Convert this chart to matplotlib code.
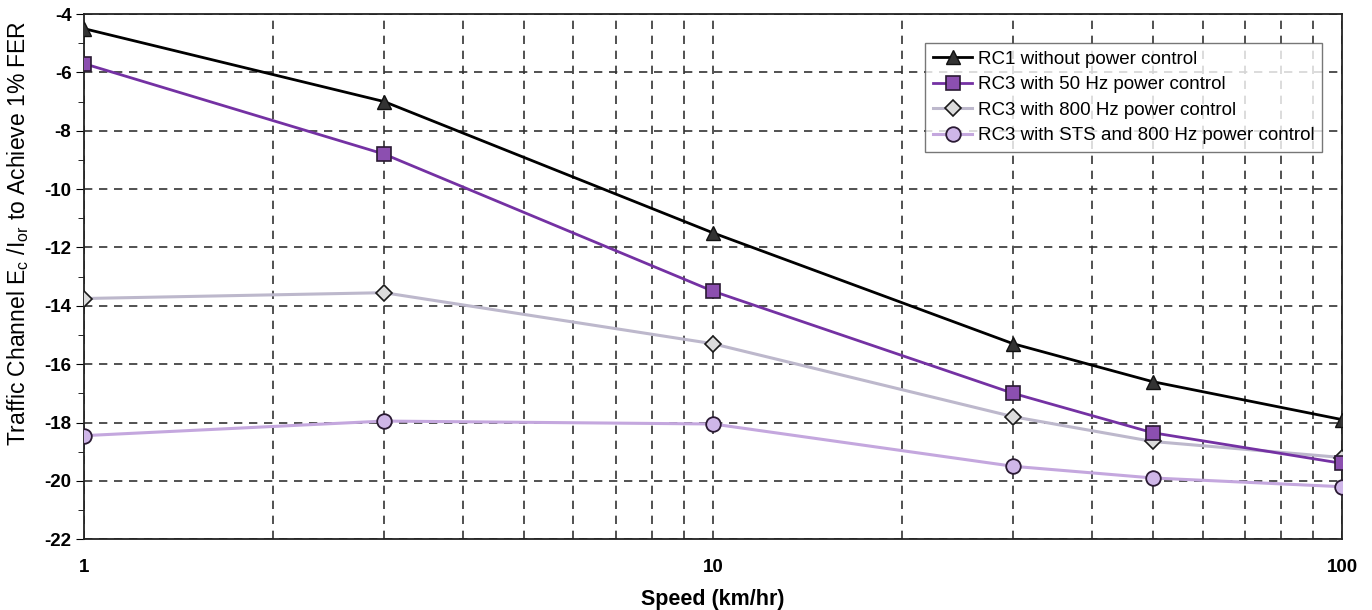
import numpy as np
import matplotlib
matplotlib.use('Agg')
import matplotlib.pyplot as plt
from matplotlib.ticker import FixedLocator, NullFormatter

plt.rcParams['font.family'] = ['Liberation Sans', 'DejaVu Sans']
plt.rcParams['mathtext.fontset'] = 'custom'
plt.rcParams['mathtext.rm'] = 'Liberation Sans'
plt.rcParams['axes.unicode_minus'] = False

speed = [1, 3, 10, 30, 50, 100]
rc1_nopc = [-4.5, -7.0, -11.5, -15.3, -16.6, -17.9]
rc3_50hz = [-5.7, -8.8, -13.5, -17.0, -18.35, -19.4]
rc3_800hz = [-13.75, -13.55, -15.3, -17.8, -18.65, -19.2]
rc3_sts = [-18.45, -17.95, -18.05, -19.5, -19.9, -20.2]

labels = ['RC1 without power control',
          'RC3 with 50 Hz power control',
          'RC3 with 800 Hz power control',
          'RC3 with STS and 800 Hz power control']

fig = plt.figure(figsize=(13.72, 6.10), dpi=100)
ax = fig.add_axes([0.0612, 0.116, 0.917, 0.861])

ax.plot(speed, rc1_nopc, color='black', lw=2.0, marker='^', ms=10,
        mfc='#333333', mec='#111111', label=labels[0], zorder=5)
ax.plot(speed, rc3_50hz, color='#7431a3', lw=2.0, marker='s', ms=9.5,
        mfc='#8c4fb0', mec='#2a1a33', mew=1.2, label=labels[1], zorder=4)
ax.plot(speed, rc3_800hz, color='#bdb8cc', lw=2.2, marker='D', ms=8.5,
        mfc='#dcdcdc', mec='#1a1a1a', mew=1.2, label=labels[2], zorder=3)
ax.plot(speed, rc3_sts, color='#c4a7de', lw=2.2, marker='o', ms=10.5,
        mfc='#cfb6e8', mec='#2a1a33', mew=1.3, label=labels[3], zorder=3)

ax.set_xscale('log')
ax.set_xlim(1, 100)
ax.set_ylim(-22, -4)
ax.xaxis.set_major_locator(FixedLocator([1, 10, 100]))
ax.set_xticklabels(['1', '10', '100'])
ax.xaxis.set_minor_formatter(NullFormatter())
ax.set_yticks(np.arange(-22, -3, 2))
ax.set_yticks(np.arange(-21, -4, 2), minor=True)

ax.tick_params(axis='x', which='both', length=0, pad=14, labelsize=13.5)
ax.tick_params(axis='y', which='major', length=6, direction='out', labelsize=13.5, pad=3)
ax.tick_params(axis='y', which='minor', length=4, direction='out')
for t in ax.get_xticklabels() + ax.get_yticklabels():
    t.set_fontweight('bold')

ax.grid(True, which='major', axis='y', color='#333333', ls=(0, (5, 4)), lw=1.2)
ax.grid(True, which='both', axis='x', color='#333333', ls=(0, (5, 4)), lw=1.2)

for s in ax.spines.values():
    s.set_linewidth(1.3)
    s.set_color('#222222')

ax.set_xlabel('Speed (km/hr)', fontsize=15.5, fontweight='bold')
ax.xaxis.set_label_coords(0.5, -0.095)
ax.set_ylabel(r'Traffic Channel E$_\mathregular{c}$ /I$_\mathregular{or}$ to Achieve 1% FER',
              fontsize=16.5)
ax.yaxis.set_label_coords(-0.042, 0.583)

leg = ax.legend(loc='upper right', bbox_to_anchor=(0.984, 0.945), fontsize=13.5,
                frameon=True, fancybox=False, edgecolor='#555555',
                handlelength=2.1, handletextpad=0.3, borderpad=0.4,
                labelspacing=0.45, borderaxespad=0)
leg.get_frame().set_linewidth(1.0)

fig.savefig('out.png', dpi=100)
